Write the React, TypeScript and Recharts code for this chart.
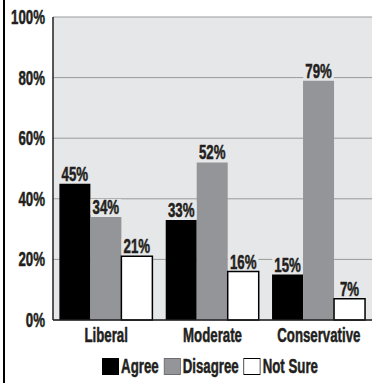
import React from "react";
import {
  BarChart,
  Bar,
  XAxis,
  YAxis,
  CartesianGrid,
  Legend,
  LabelList,
} from "recharts";

const categories = ["Liberal", "Moderate", "Conservative"];
const agree = [45, 33, 15];
const disagree = [34, 52, 79];
const notSure = [21, 16, 7];
const yTicks = [0, 20, 40, 60, 80, 100];

const seriesNames = ["Agree", "Disagree", "Not Sure"];
const seriesFills = ["#000000", "#939598", "#ffffff"];

const data = categories.map((c, i) => ({
  name: c,
  agree: agree[i],
  disagree: disagree[i],
  notSure: notSure[i],
}));

// no condensed face installed, so squeeze Liberation Sans Bold horizontally
const FONT = "'Liberation Sans', Arial, sans-serif";
const FS = 19.5;
const SQ = 0.68;
const INK = "#231f20";
const PLOT_BG = "#e6e7e8";

const Narrow = ({ x, y, anchor, dy, children }: any) => (
  <text
    transform={`translate(${x},${y}) scale(${SQ},1)`}
    x={0}
    y={0}
    dy={dy}
    textAnchor={anchor}
    fontFamily={FONT}
    fontWeight="bold"
    fontSize={FS}
    fill={INK}
    stroke={INK}
    strokeWidth={0.5}
  >
    {children}
  </text>
);

const YTick = (props: any) => (
  <Narrow x={props.x} y={props.y} anchor="end" dy="0.355em">
    {`${props.payload.value}%`}
  </Narrow>
);

const XTick = (props: any) => (
  <Narrow x={props.x} y={props.y} anchor="middle" dy="0.71em">
    {props.payload.value}
  </Narrow>
);

// value label with a plot-coloured patch behind it, so gridlines break around it
const BarValue = (props: any) => {
  const { x, y, width, value } = props;
  const cx = x + width / 2;
  const text = `${value}%`;
  const w = ((text.length - 1) * 0.556 + 0.889) * FS * SQ + 4;
  return (
    <g>
      <rect x={cx - w / 2} y={y - 18} width={w} height={16} fill={PLOT_BG} />
      <Narrow x={cx} y={y - 3} anchor="middle">
        {text}
      </Narrow>
    </g>
  );
};

const LegendBox = () => (
  <div
    style={{
      display: "flex",
      justifyContent: "center",
      alignItems: "center",
      height: 20,
      fontFamily: FONT,
      fontWeight: "bold",
      fontSize: FS,
      color: INK,
      WebkitTextStroke: `0.5px ${INK}`,
      transform: `scaleX(${SQ})`,
      transformOrigin: "center",
      whiteSpace: "nowrap",
    }}
  >
    {seriesNames.map((n, i) => (
      <span key={n} style={{ display: "flex", alignItems: "center", marginRight: 5 / SQ }}>
        <span
          style={{
            display: "inline-block",
            width: 17 / SQ,
            height: 17,
            boxSizing: "border-box",
            background: seriesFills[i],
            border: i === 2 ? "1.5px solid #000" : i === 1 ? "1px solid #6d6e71" : "none",
          }}
        />
        <span style={{ marginLeft: 2 / SQ }}>{n}</span>
      </span>
    ))}
  </div>
);

export default function App() {
  return (
    <div
      style={{
        position: "absolute",
        left: 0,
        top: 0,
        width: 381,
        height: 383,
        background: "#fff",
      }}
    >
      <div
        style={{
          position: "absolute",
          left: 3,
          top: 0,
          width: 2,
          height: 383,
          background: "#000",
        }}
      />
      <BarChart
        width={381}
        height={383}
        data={data}
        margin={{ top: 17, right: 9, left: 3, bottom: 13 }}
        barCategoryGap="6%"
        barGap={0}
      >
        <CartesianGrid
          vertical={false}
          fill={PLOT_BG}
          fillOpacity={1}
          stroke="#9a9a9a"
          strokeWidth={1}
        />
        <XAxis
          dataKey="name"
          tickLine={false}
          axisLine={{ stroke: INK, strokeWidth: 1.5 }}
          height={30}
          tick={<XTick />}
        />
        <XAxis
          xAxisId="top"
          dataKey="name"
          orientation="top"
          height={0}
          tick={false}
          tickLine={false}
          axisLine={{ stroke: INK, strokeWidth: 1.5 }}
        />
        <YAxis
          domain={[0, 100]}
          ticks={yTicks}
          width={50}
          tickLine={false}
          axisLine={{ stroke: INK, strokeWidth: 1.5 }}
          tick={<YTick />}
        />
        <YAxis
          yAxisId="right"
          orientation="right"
          domain={[0, 100]}
          width={0}
          tick={false}
          tickLine={false}
          axisLine={{ stroke: INK, strokeWidth: 1.5 }}
        />
        <Legend
          content={<LegendBox />}
          verticalAlign="bottom"
          wrapperStyle={{ left: 53, width: 319, top: 356, height: 20 }}
        />
        <Bar dataKey="agree" name="Agree" fill={seriesFills[0]} isAnimationActive={false}>
          <LabelList dataKey="agree" content={BarValue} />
        </Bar>
        <Bar dataKey="disagree" name="Disagree" fill={seriesFills[1]} isAnimationActive={false}>
          <LabelList dataKey="disagree" content={BarValue} />
        </Bar>
        <Bar
          dataKey="notSure"
          name="Not Sure"
          fill={seriesFills[2]}
          stroke="#000"
          strokeWidth={1.5}
          isAnimationActive={false}
        >
          <LabelList dataKey="notSure" content={BarValue} />
        </Bar>
      </BarChart>
    </div>
  );
}
